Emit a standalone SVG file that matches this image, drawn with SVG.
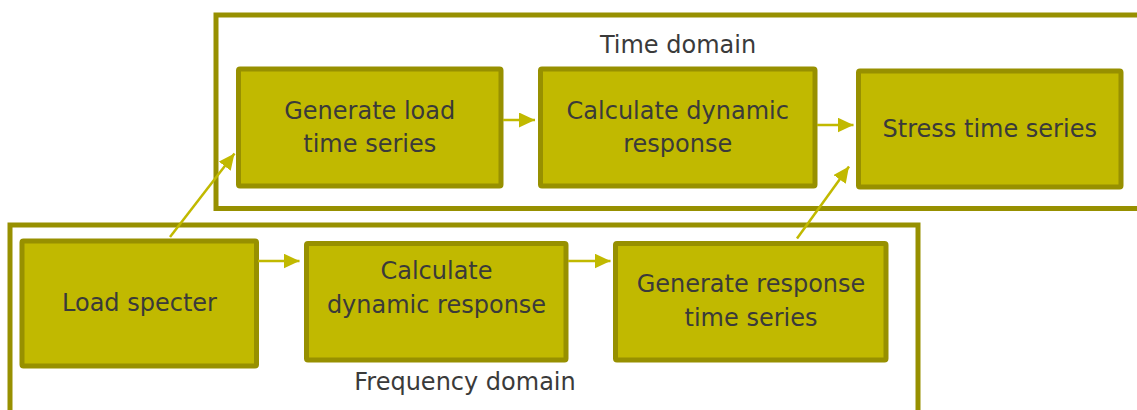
<svg xmlns="http://www.w3.org/2000/svg" width="1137" height="410" viewBox="0 0 1137 410">
<style>
.container{fill:none;stroke:#979000;stroke-width:5}
.box{fill:#C1B900;stroke:#979000;stroke-width:5}
.lbl{font-family:"DejaVu Sans",Verdana,sans-serif;font-size:24px;fill:#3a3a3a;text-anchor:middle}
.conn{stroke:#C1B900;stroke-width:2.5;fill:none;marker-end:url(#ah)}
</style>
<defs>
<marker id="ah" markerUnits="userSpaceOnUse" markerWidth="18" markerHeight="16" refX="16" refY="7.5" orient="auto">
<path d="M0,0 L16,7.5 L0,15 Z" fill="#C1B900"/>
</marker>
</defs>
<rect x="0" y="0" width="1137" height="410" fill="#ffffff"/>
<g id="time-domain">
<rect class="container" x="216" y="15" width="930" height="193.5"/>
<text class="lbl" x="678" y="52.5">Time domain</text>
</g>
<g id="frequency-domain">
<rect class="container" x="10" y="225" width="908" height="200"/>
<text class="lbl" x="465" y="389.5">Frequency domain</text>
</g>
<g id="gen-load">
<rect class="box" x="238.5" y="69" width="262.5" height="117" rx="1.5"/>
<text class="lbl" x="369.75" y="118.5">Generate load</text>
<text class="lbl" x="369.75" y="152">time series</text>
</g>
<g id="calc-time">
<rect class="box" x="540.5" y="69" width="274.5" height="117" rx="1.5"/>
<text class="lbl" x="677.75" y="118.5">Calculate dynamic</text>
<text class="lbl" x="677.75" y="152">response</text>
</g>
<g id="stress">
<rect class="box" x="858.5" y="71" width="262.5" height="116" rx="1.5"/>
<text class="lbl" x="989.75" y="137">Stress time series</text>
</g>
<g id="load-specter">
<rect class="box" x="22" y="241" width="234.5" height="125" rx="1.5"/>
<text class="lbl" x="139.5" y="311">Load specter</text>
</g>
<g id="calc-freq">
<rect class="box" x="306.5" y="243.5" width="259.5" height="116.5" rx="1.5"/>
<text class="lbl" x="436.5" y="279">Calculate</text>
<text class="lbl" x="436.5" y="313">dynamic response</text>
</g>
<g id="gen-response">
<rect class="box" x="615.5" y="243.5" width="270.5" height="116.5" rx="1.5"/>
<text class="lbl" x="751" y="292">Generate response</text>
<text class="lbl" x="751" y="325.5">time series</text>
</g>
<g id="connectors">
<line class="conn" x1="503" y1="120" x2="535" y2="120"/>
<line class="conn" x1="817" y1="125" x2="853.5" y2="125"/>
<line class="conn" x1="170" y1="237" x2="234.5" y2="153.5"/>
<line class="conn" x1="258" y1="261" x2="299.5" y2="261"/>
<line class="conn" x1="568" y1="261" x2="610.5" y2="261"/>
<line class="conn" x1="797" y1="238.5" x2="849" y2="166.5"/>
</g>
</svg>
